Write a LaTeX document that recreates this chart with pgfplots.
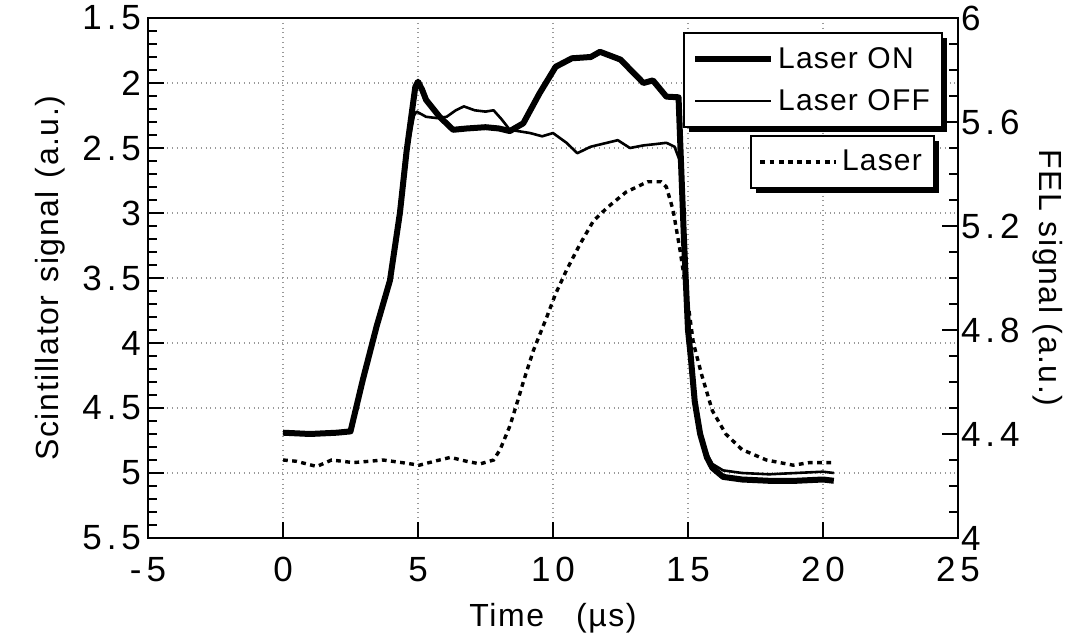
\documentclass[border=0pt]{standalone}
\usepackage{pgfplots}
\pgfplotsset{compat=1.18}
\usepackage{fontspec}
\setmainfont{Liberation Sans}
\newfontfamily\tickfont[LetterSpace=14]{Liberation Sans}
\newfontfamily\labfont[LetterSpace=5]{Liberation Sans}
\newfontfamily\legfont[LetterSpace=4]{Liberation Sans}
\begin{document}
\begin{tikzpicture}
\pgfplotsset{
  common/.style={
    scale only axis, width=405pt, height=260pt,
    xmin=-5, xmax=25,
    tick align=inside,
    axis line style={line width=1pt},
    every tick/.style={black, line width=0.8pt},
    major tick length=8pt, minor tick length=4.5pt,
    tick label style={font=\fontsize{17.5}{19}\tickfont},
    legend cell align=left,
    legend image code/.code={\draw[#1] (0pt,0pt) -- (38pt,0pt);},
  },
  legbox/.style={
    draw=black, line width=1.1pt, fill=white,
    font=\fontsize{15}{17}\legfont,
    inner xsep=4pt, inner ysep=5pt, row sep=5pt,
  },
}
\begin{axis}[common, name=ax,
  ymin=1.5, ymax=5.5, y dir=reverse,
  xtick={-5,0,5,10,15,20,25},
  xticklabels={-5,0,5,10,15,20,25},
  xticklabel style={yshift=-6pt},
  xtick pos=bottom,
  ytick={1.5,2,2.5,3,3.5,4,4.5,5,5.5},
  yticklabels={1.5,2,2.5,3,3.5,4,4.5,5,5.5},
  minor y tick num=4,
  ytick pos=left,
  grid=major,
  major grid style={dotted, gray!80, line width=0.7pt},
  minor grid style={draw=none},
  xlabel={\fontsize{16}{18}\labfont Time\hspace{1em}(µs)},
  ylabel={\fontsize{16}{18}\labfont Scintillator\hspace{0.4em}signal\hspace{0.4em}(a.u.)},
  xlabel style={yshift=-4pt},
  ylabel style={yshift=2pt},
  legend style={legbox, name=leg1, at={(0.9815,0.973)}, anchor=north east},
]
\addplot[black, line width=3pt, line join=round] coordinates {
(0,4.69)(1,4.70)(2,4.69)(2.5,4.68)(2.96,4.28)(3.47,3.87)(3.96,3.52)(4.33,3.0)(4.58,2.52)(4.9,2.03)(5.0,1.99)(5.15,2.05)(5.3,2.13)(5.8,2.26)(6.3,2.36)(6.8,2.35)(7.5,2.34)(8.0,2.35)(8.4,2.37)(8.9,2.31)(9.5,2.08)(10.1,1.875)(10.7,1.81)(11.4,1.80)(11.74,1.76)(12.5,1.82)(13.35,2.0)(13.7,1.98)(14.2,2.105)(14.65,2.11)(14.72,2.5)(14.85,3.2)(15.0,3.9)(15.1,4.1)(15.25,4.45)(15.45,4.7)(15.7,4.88)(15.9,4.96)(16.3,5.03)(17,5.05)(18,5.06)(19,5.06)(20,5.05)(20.4,5.06)
};
\addlegendentry{Laser ON}
\addplot[black, line width=1.3pt, line join=round] coordinates {
(0,4.69)(1,4.70)(2,4.69)(2.5,4.68)(2.96,4.28)(3.47,3.87)(3.96,3.52)(4.33,3.0)(4.58,2.55)(4.85,2.25)(4.95,2.22)(5.3,2.26)(5.7,2.27)(6.06,2.26)(6.4,2.21)(6.7,2.18)(7.1,2.21)(7.5,2.22)(7.8,2.21)(8.1,2.28)(8.4,2.36)(9.15,2.385)(9.6,2.41)(10.0,2.385)(10.5,2.46)(10.9,2.54)(11.4,2.49)(12.0,2.46)(12.4,2.44)(12.85,2.50)(13.35,2.48)(13.8,2.47)(14.2,2.46)(14.5,2.49)(14.7,2.6)(14.85,3.2)(15.0,3.9)(15.1,4.1)(15.25,4.45)(15.45,4.68)(15.7,4.85)(15.9,4.93)(16.3,4.98)(17,5.0)(18,5.01)(19,5.0)(20,4.99)(20.4,5.0)
};
\addlegendentry{Laser OFF}
\end{axis}
\begin{axis}[common,
  ymin=4, ymax=6,
  axis y line*=right, axis x line=none,
  ytick={4,4.4,4.8,5.2,5.6,6},
  yticklabels={4,4.4,4.8,5.2,5.6,6},
  minor y tick num=3,
  yticklabel style={xshift=-2pt},
  ylabel={\fontsize{16}{18}\labfont FEL signal (a.u.)},
  ylabel style={rotate=180},
  legend style={legbox, name=leg2, at={(0.9716,0.775)}, anchor=north east},
]
\addplot[black, line width=1.7pt, dash pattern=on 2.4pt off 2.2pt] coordinates {
(0,4.30)(0.5,4.295)(1.25,4.275)(1.8,4.30)(2.6,4.29)(3.2,4.295)(3.7,4.30)(4.4,4.29)(5.05,4.28)(5.6,4.295)(6.2,4.31)(6.8,4.295)(7.3,4.285)(7.8,4.30)(8.04,4.34)(8.4,4.43)(8.7,4.53)(8.9,4.60)(9.27,4.72)(9.77,4.85)(10.1,4.94)(10.5,5.03)(11.0,5.13)(11.5,5.22)(12.0,5.27)(12.7,5.33)(13.5,5.37)(14.0,5.37)(14.2,5.35)(14.45,5.26)(14.7,5.11)(14.95,4.94)(15.2,4.75)(15.5,4.63)(15.9,4.49)(16.4,4.40)(17.0,4.34)(17.9,4.30)(18.9,4.28)(19.5,4.29)(20.3,4.29)
};
\addlegendentry{Laser}
\end{axis}
\foreach \n in {leg1,leg2}{
  \draw[line width=2.4pt] ([xshift=0.7pt,yshift=-3pt]\n.north east) -- ([xshift=0.7pt,yshift=-0.7pt]\n.south east) -- ([xshift=3pt,yshift=-0.7pt]\n.south west);
}
\pgfresetboundingbox
\path ([shift={(-74pt,-48pt)}]ax.south west) rectangle ([shift={(59pt,9pt)}]ax.north east);
\end{tikzpicture}
\end{document}
